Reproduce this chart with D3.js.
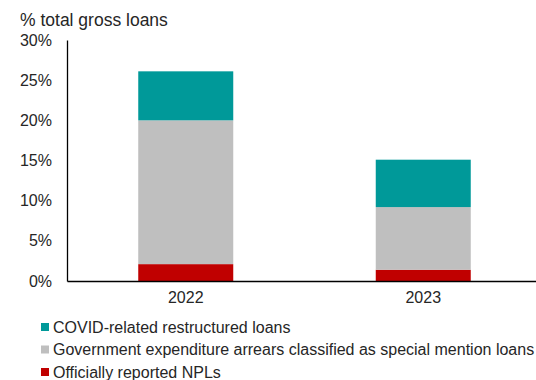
<!DOCTYPE html>
<html>
<head>
<meta charset="utf-8">
<script src="https://cdn.jsdelivr.net/npm/d3@7"></script>
<style>
  body { margin: 0; background: #fff; }
  text { font-family: "Liberation Sans", Arial, sans-serif; fill: #262626; }
</style>
</head>
<body>
<div id="chart"></div>
<script>
// data (% of total gross loans)
var years = ["2022", "2023"];
var seriesNames = ["Officially reported NPLs", "Government expenditure arrears classified as special mention loans", "COVID-related restructured loans"];
var seriesColors = ["#c00000", "#bfbfbf", "#009999"];
var npls = [2.1, 1.4];
var govArrears = [17.9, 7.8];
var covidLoans = [6.1, 5.9];
var yTicks = [0, 5, 10, 15, 20, 25, 30];

var W = 536, H = 380;
var margin = { top: 40, right: 0, bottom: 99, left: 67 },
    width = W - margin.left - margin.right,
    height = H - margin.top - margin.bottom;

var svg = d3.select("#chart")
  .append("svg")
  .attr("width", W)
  .attr("height", H);

var g = svg.append("g")
  .attr("transform", "translate(" + margin.left + "," + margin.top + ")");

// build stacked rows
var table = years.map(function(y, i) {
  return { year: y, npl: npls[i], gov: govArrears[i], covid: covidLoans[i] };
});
var keys = ["npl", "gov", "covid"];
var stacked = d3.stack().keys(keys)(table);

var x = d3.scaleBand()
  .range([0, width + 6])
  .domain(years)
  .paddingInner(0.6)
  .paddingOuter(0.3);

var y = d3.scaleLinear()
  .domain([0, 30])
  .range([height, 0]);

var fs = "16px";

// title
svg.append("text")
  .attr("x", 20)
  .attr("y", 26)
  .style("font-size", "17.5px")
  .text("% total gross loans");

// bars
g.selectAll("g.layer")
  .data(stacked)
  .enter()
  .append("g")
    .attr("class", "layer")
    .attr("fill", function(d, i) { return seriesColors[i]; })
  .selectAll("rect")
  .data(function(d) { return d; })
  .enter()
  .append("rect")
    .attr("x", function(d) { return x(d.data.year); })
    .attr("y", function(d) { return y(d[1]); })
    .attr("width", x.bandwidth())
    .attr("height", function(d) { return y(d[0]) - y(d[1]); });

// y axis
var yAxis = g.append("g")
  .call(d3.axisLeft(y).tickValues(yTicks).tickSize(0).tickPadding(15)
    .tickFormat(function(d) { return d + "%"; }));
yAxis.select(".domain").attr("stroke", "#000").attr("stroke-width", 1.3);
yAxis.selectAll("text").style("font-size", fs).attr("fill", "#262626");

// x axis
var xAxis = g.append("g")
  .attr("transform", "translate(0," + height + ")")
  .call(d3.axisBottom(x).tickSize(0).tickPadding(11));
xAxis.select(".domain").attr("stroke", "#000").attr("stroke-width", 1.3);
xAxis.selectAll("text").style("font-size", fs).attr("fill", "#262626");

// legend (top to bottom: covid, gov, npl)
var legendOrder = [2, 1, 0];
var legend = svg.append("g").attr("transform", "translate(41,327)");
legendOrder.forEach(function(k, i) {
  var row = legend.append("g").attr("transform", "translate(0," + (i * 22.5) + ")");
  row.append("rect")
    .attr("x", 0).attr("y", -4)
    .attr("width", 8).attr("height", 8)
    .attr("fill", seriesColors[k]);
  row.append("text")
    .attr("x", 12)
    .attr("dy", "0.35em")
    .style("font-size", fs)
    .text(seriesNames[k]);
});
</script>
</body>
</html>
